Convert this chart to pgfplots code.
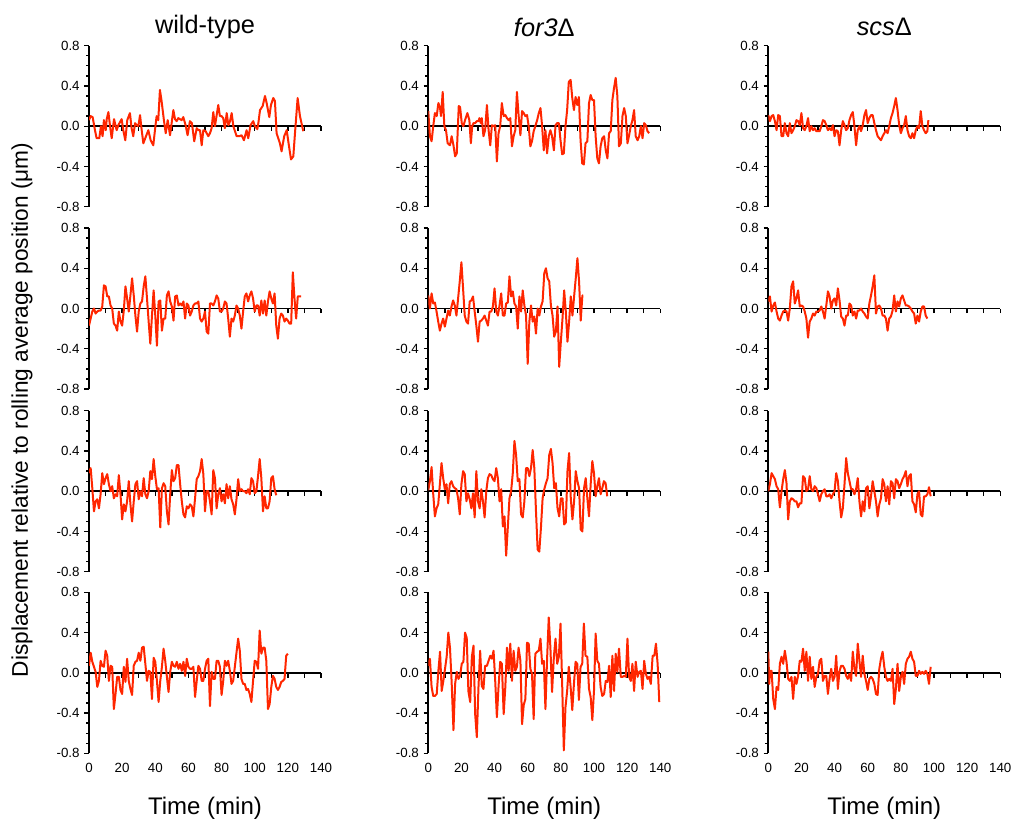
\documentclass[border=0pt]{standalone}
\usepackage{fontspec}
\setmainfont{Liberation Sans}
\usepackage{pgfplots}
\pgfplotsset{compat=1.18}

\definecolor{trace}{RGB}{255,38,0}

\pgfplotsset{
  panel/.style={
    scale only axis, width=174pt, height=120.75pt,
    xmin=0, xmax=140, ymin=-0.8, ymax=0.8,
    axis y line=left, axis x line=middle,
    axis line style={-, line width=1.2pt, black},
    hide obscured x ticks=false, hide obscured y ticks=false,
    xtick={0,10,...,140}, xticklabels={},
    ytick={-0.8,-0.4,0,0.4,0.8}, minor y tick num=3,
    tick align=outside,
    major tick length=3.5pt, minor tick length=2.2pt,
    every tick/.style={black, line width=1pt},
    /pgf/number format/assume math mode=true,
    y tick label style={/pgf/number format/fixed, /pgf/number format/fixed zerofill, /pgf/number format/precision=1},
    tick label style={font=\fontsize{10}{11}\selectfont},
    title style={anchor=center, yshift=8pt, font=\fontsize{19}{22}\selectfont},
  },
  bottom/.style={
    xticklabels={0,,20,,40,,60,,80,,100,,120,,140},
    x tick label style={yshift=-60.4pt},
    xlabel={Time (min)},
    xlabel style={at={(0.5,0)}, anchor=center, yshift=-41.5pt, font=\fontsize{18}{21}\selectfont},
  },
  trace line/.style={trace, line width=1.5pt, mark=none, line join=round},
}

\begin{document}
\begin{tikzpicture}
\path[use as bounding box] (0,0) rectangle (759.75pt,-613.5pt);

% row 1
\begin{axis}[panel, at={(66.75pt,-155pt)}, anchor=south west, title={wild-type}]
\addplot[trace line] coordinates {(0,0.06)(1,0.10)(2.2,0.09)(3.6,-0.04)(4.6,-0.12)(6.2,-0.12)(7.2,0.0)(8.2,-0.10)(9,0.06)(10.1,-0.04)(10.7,0.07)(11.7,0.14)(12.7,0.0)(13.7,-0.12)(15.1,0.07)(16.7,-0.04)(17.7,0.01)(19.7,0.07)(20.7,-0.04)(21.9,-0.14)(23.1,0.06)(24.7,0.13)(25.7,-0.02)(26.7,-0.10)(27.8,0.03)(28.8,0.01)(29.8,0.0)(30.8,0.11)(31.8,-0.04)(32.8,-0.17)(34.4,-0.10)(35.8,-0.04)(37.2,-0.14)(38.8,-0.19)(39.8,-0.04)(40.8,0.10)(41.8,0.06)(42.8,0.36)(43.8,0.25)(45.2,0.06)(46.3,-0.07)(47.5,0.06)(48.9,-0.09)(50.9,0.16)(51.9,0.07)(52.9,0.05)(53.9,0.08)(55.9,0.06)(56.9,0.09)(58.3,0.01)(59.5,-0.09)(60.9,0.05)(62.1,0.03)(63.5,-0.15)(65,-0.02)(66,-0.04)(67,-0.04)(68,-0.19)(69,-0.04)(70.4,-0.05)(72,-0.10)(73,-0.07)(74,-0.02)(75,0.14)(76,0.0)(78,0.21)(79,0.10)(80,0.10)(81,0.08)(82,-0.02)(83.1,0.13)(84.1,0.01)(85.1,0.05)(86.1,0.13)(87.1,0.0)(89.1,-0.10)(90.7,-0.10)(92.1,-0.09)(93.5,-0.14)(95.1,-0.04)(96.1,-0.12)(97.5,0.01)(99.1,0.05)(100.1,0.0)(101.6,-0.03)(102.2,0.03)(103.2,0.16)(104.8,0.20)(106.2,0.30)(107.2,0.23)(108.8,0.09)(109.8,0.21)(111.2,0.28)(112.2,0.25)(113.2,-0.07)(115.2,-0.17)(116.2,-0.25)(117.8,-0.10)(119.3,-0.04)(120.7,-0.20)(121.9,-0.33)(123.3,-0.30)(124.3,-0.07)(125.9,0.28)(127.3,0.10)(129.3,-0.05)};
\end{axis}

\begin{axis}[panel, at={(321.2pt,-155pt)}, anchor=south west, title={\textit{for3}Δ}]
\addplot[trace line] coordinates {(0,0.15)(1,-0.10)(2,-0.15)(3,0.0)(4,0.13)(5.1,0.10)(6.1,0.23)(7.1,0.18)(7.7,0.10)(8.7,0.34)(9.7,0.0)(10.7,-0.04)(11.7,-0.17)(13.1,-0.19)(14.1,-0.10)(15.2,-0.19)(16.2,-0.30)(17.2,-0.27)(18.4,0.20)(19.2,0.19)(20.2,0.03)(21.2,0.0)(22.2,0.06)(23.6,0.13)(24.8,0.06)(25.7,-0.17)(26.5,0.0)(27.3,0.03)(28.3,0.03)(29.3,0.05)(30.3,0.05)(30.9,0.08)(31.7,0.03)(32.3,0.08)(33.3,-0.10)(34.3,-0.04)(35.4,0.21)(36.4,-0.04)(37.4,-0.19)(38.4,0.01)(39.4,0.0)(40.4,0.01)(41.4,-0.35)(42.4,-0.07)(43.4,0.0)(44.4,0.23)(45.5,0.10)(46.5,0.11)(47.5,0.08)(48.5,0.06)(49.5,0.08)(50.5,-0.20)(51.5,-0.10)(52.5,-0.04)(53.5,0.34)(54.5,0.11)(55.6,-0.09)(56.6,0.15)(57.6,0.13)(58.6,0.10)(59.6,0.11)(60.6,0.0)(61.6,-0.20)(62.6,-0.15)(63.6,-0.05)(64.6,0.0)(65.7,0.06)(66.7,0.13)(67.7,0.18)(68.7,0.0)(69.7,-0.24)(70.7,-0.04)(71.7,-0.27)(72.7,-0.10)(73.7,-0.04)(74.7,-0.10)(75.8,-0.24)(76.8,0.01)(77.8,0.03)(78.8,0.03)(79.8,-0.14)(80.8,-0.28)(81.8,-0.27)(82.8,0.0)(83.8,0.16)(84.8,0.44)(85.9,0.46)(86.9,0.28)(87.9,0.16)(88.9,0.29)(89.9,0.21)(90.9,0.29)(91.9,-0.14)(92.9,-0.37)(93.9,-0.38)(94.9,-0.17)(96,-0.15)(97,0.23)(98,0.31)(99,0.26)(100,0.26)(101,-0.10)(102,-0.32)(103,-0.37)(104,-0.20)(105,-0.12)(106.1,-0.10)(107.1,-0.24)(108.1,-0.32)(109.1,-0.07)(110.1,-0.05)(111.1,0.26)(112.1,0.38)(113.1,0.48)(114.1,0.30)(115.1,-0.20)(116.2,-0.17)(117.2,0.10)(118.2,0.18)(119.2,0.10)(120.2,-0.17)(121.2,-0.09)(122.2,0.0)(123.2,0.06)(124.2,0.16)(125.2,-0.10)(126.3,-0.14)(127.3,-0.10)(128.3,0.0)(129.3,-0.12)(130.3,0.03)(131.3,0.01)(132.3,-0.05)(133.3,-0.07)};
\end{axis}

\begin{axis}[panel, at={(576.2pt,-155pt)}, anchor=south west, title={\textit{scs}Δ}]
\addplot[trace line] coordinates {(0,0.11)(1,0.05)(2,0.10)(3,0.11)(4,0.05)(5,-0.04)(6,0.11)(7,0.10)(8,-0.10)(9,-0.10)(10,0.03)(11,-0.07)(12,-0.10)(13,0.03)(14,-0.07)(15,-0.04)(16,0.0)(17,0.06)(18,0.05)(19,0.01)(20,0.13)(21,-0.02)(22,-0.04)(23,0.0)(24,0.08)(25,-0.05)(26,0.0)(27,-0.04)(28,-0.02)(29,-0.05)(30,-0.05)(31,-0.05)(32,0.0)(33,0.06)(34,0.05)(35,0.01)(36,-0.04)(37,-0.02)(38,-0.04)(39,0.01)(40,-0.10)(41,-0.04)(42,-0.05)(43,-0.19)(44,-0.04)(45,0.05)(46,0.01)(47,-0.04)(48,-0.02)(49,0.06)(50,0.11)(51,0.14)(52,0.0)(53,-0.19)(54,-0.04)(55,0.0)(56,-0.05)(57,0.01)(58,0.11)(59,0.16)(60,0.03)(61,0.08)(62,0.11)(63,0.11)(64,0.03)(65,-0.04)(66,-0.10)(67,-0.12)(68,-0.14)(69,-0.10)(70,-0.07)(71,-0.04)(72,-0.07)(73,0.0)(74,0.08)(75,0.13)(76,0.20)(77,0.28)(78,0.16)(79,0.01)(80,-0.07)(81,-0.02)(82,0.01)(83,0.10)(84,-0.04)(85,-0.10)(86,-0.12)(87,-0.07)(88,-0.12)(89,-0.04)(90,0.0)(91,-0.02)(92,0.15)(93,0.0)(94,-0.04)(95,-0.07)(96,-0.05)(96.6,0.06)};
\end{axis}

% row 2
\begin{axis}[panel, at={(66.75pt,-291.75pt)}, anchor=south west]
\addplot[trace line] coordinates {(0,-0.17)(1,-0.10)(2,-0.03)(3,0.0)(4,-0.05)(5,-0.03)(6,-0.02)(7,-0.02)(8,0.02)(9,0.23)(10,0.22)(11,0.12)(12,0.12)(13,0.03)(14,0.0)(15,-0.15)(16,-0.17)(17,-0.22)(18,-0.03)(19,-0.13)(20,-0.17)(21,-0.02)(22,0.22)(23,0.10)(24,-0.03)(25,0.13)(26,0.30)(27,0.13)(28,-0.07)(29,-0.23)(30,-0.03)(31,0.05)(32,0.07)(33,0.22)(34,0.32)(35,0.10)(36,-0.13)(37,-0.35)(38,-0.07)(39,0.18)(40,-0.07)(41,-0.37)(42,0.07)(43,0.08)(44,-0.22)(45,-0.10)(46,-0.10)(47,0.13)(48,0.17)(49,0.07)(50,0.02)(51,-0.12)(52,0.12)(53,0.13)(54,0.03)(55,0.05)(56,0.03)(57,0.07)(58,-0.10)(59,0.05)(60,0.03)(61,-0.07)(62,-0.03)(63,0.03)(64,0.05)(65,0.05)(66,0.07)(67,-0.10)(68,-0.13)(69,-0.10)(70,-0.03)(71,-0.23)(72,-0.25)(73,0.05)(74,0.05)(75,0.03)(76,0.07)(77,0.13)(78,0.10)(79,-0.03)(80,-0.03)(81,0.0)(82,0.07)(83,0.05)(84,-0.10)(85,-0.28)(86,-0.10)(87,-0.13)(88,-0.07)(89,0.03)(90,0.0)(91,-0.07)(92,-0.20)(93,-0.03)(94,0.12)(95,0.15)(96,0.07)(97,0.13)(98,0.17)(99,0.10)(100,-0.03)(101,0.03)(102,0.03)(103,-0.07)(104,0.08)(105,-0.05)(106,0.08)(107,-0.07)(108,0.07)(109,0.17)(110,0.10)(111,0.05)(112,0.15)(113,-0.17)(114,-0.30)(115,-0.10)(116,-0.05)(117,-0.07)(118,-0.13)(119,-0.10)(120,-0.12)(121,-0.15)(122,-0.15)(123,0.36)(124,0.10)(125,-0.10)(126,0.12)(127,0.12)(128,0.12)};
\end{axis}

\begin{axis}[panel, at={(321.2pt,-291.75pt)}, anchor=south west]
\addplot[trace line] coordinates {(0,0.13)(1,0.0)(2,0.15)(3,0.05)(4,0.06)(5,-0.03)(6,-0.13)(7,-0.22)(8,-0.15)(9,-0.10)(10,-0.18)(11,-0.10)(12,-0.02)(13,-0.07)(14,0.02)(15,0.08)(16,0.03)(17,-0.07)(18,0.10)(19,0.27)(20,0.46)(21,0.20)(22,-0.07)(23,-0.13)(24,-0.15)(25,0.07)(26,0.08)(27,0.12)(28,-0.03)(29,-0.17)(30,-0.33)(31,-0.13)(32,-0.12)(33,-0.10)(34,-0.07)(35,-0.12)(36,-0.17)(37,-0.03)(38,-0.03)(39,0.02)(40,0.20)(41,-0.03)(42,-0.07)(43,0.03)(44,0.15)(45,-0.07)(46,-0.07)(47,0.05)(48,0.06)(49,0.32)(50,0.12)(51,0.17)(52,0.05)(53,0.02)(54,-0.20)(55,0.12)(56,-0.03)(57,0.18)(58,0.03)(59,-0.07)(60,-0.55)(61,-0.13)(62,0.03)(63,-0.13)(64,-0.08)(65,-0.25)(66,0.0)(67,-0.07)(68,0.02)(69,0.07)(70,0.35)(71,0.40)(72,0.30)(73,0.27)(74,0.03)(75,-0.07)(76,-0.28)(77,-0.23)(78,0.02)(79,-0.58)(80,-0.33)(81,-0.10)(82,0.18)(83,-0.03)(84,-0.33)(85,-0.13)(86,0.12)(87,-0.07)(88,0.12)(89,0.30)(90,0.50)(91,0.27)(92,-0.12)(93,0.13)(93.4,0.13)};
\end{axis}

\begin{axis}[panel, at={(576.2pt,-291.75pt)}, anchor=south west]
\addplot[trace line] coordinates {(0,0.07)(1,0.12)(2,-0.03)(3,0.03)(4,0.06)(5,-0.03)(6,-0.10)(7,-0.12)(8,-0.07)(9,-0.03)(10,-0.02)(11,-0.03)(12,-0.12)(13,0.0)(14,0.22)(15,0.27)(16,0.05)(17,0.10)(18,0.18)(19,0.02)(20,0.03)(21,0.02)(22,-0.03)(23,-0.10)(24,-0.29)(25,-0.13)(26,-0.10)(27,-0.05)(28,-0.07)(29,-0.03)(30,-0.03)(31,-0.02)(32,0.02)(33,-0.03)(34,-0.10)(35,0.03)(36,0.17)(37,0.12)(38,0.0)(39,0.08)(40,0.10)(41,0.03)(42,0.20)(43,0.08)(44,-0.08)(45,-0.10)(46,-0.17)(47,-0.07)(48,-0.07)(49,0.05)(50,0.03)(51,-0.07)(52,-0.03)(53,-0.10)(54,-0.02)(55,-0.02)(56,0.0)(57,-0.03)(58,-0.05)(59,-0.08)(60,-0.10)(61,0.05)(62,0.13)(63,0.22)(64,0.33)(65,-0.05)(66,0.02)(67,0.03)(68,0.0)(69,-0.07)(70,-0.07)(71,-0.10)(72,-0.22)(73,-0.10)(74,-0.08)(75,-0.02)(76,0.13)(77,-0.03)(78,0.07)(79,0.02)(80,0.10)(81,0.13)(82,0.08)(83,0.03)(84,0.03)(85,0.02)(86,0.0)(87,-0.03)(88,-0.05)(89,-0.15)(90,-0.07)(91,-0.13)(92,-0.03)(93,0.02)(94,0.02)(95,-0.07)(96,-0.10)};
\end{axis}

% row 3
\begin{axis}[panel, at={(66.75pt,-428.8pt)}, anchor=south west]
\addplot[trace line] coordinates {(0,0.18)(1,0.23)(2,0.03)(3,-0.20)(4,-0.10)(5,-0.08)(6,-0.17)(7,-0.03)(8,0.18)(9,0.07)(10,0.13)(11,0.17)(12,0.07)(13,0.0)(14,0.05)(15,-0.07)(16,-0.03)(17,-0.05)(18,0.16)(19,-0.03)(20,-0.28)(21,-0.13)(22,-0.20)(23,-0.10)(24,0.10)(25,-0.13)(26,-0.30)(27,-0.10)(28,0.07)(29,0.10)(30,-0.08)(31,0.0)(32,-0.05)(33,0.13)(34,-0.03)(35,-0.07)(36,0.0)(37,0.20)(38,0.12)(39,0.32)(40,0.15)(41,0.02)(42,0.03)(43,-0.36)(44,0.03)(45,0.08)(46,0.05)(47,-0.20)(48,-0.33)(49,-0.03)(50,0.21)(51,0.10)(52,0.13)(53,0.26)(54,0.26)(55,0.07)(56,-0.10)(57,-0.23)(58,-0.26)(59,-0.15)(60,-0.17)(61,-0.13)(62,-0.15)(63,-0.25)(64,-0.07)(65,0.12)(66,0.15)(67,0.20)(68,0.32)(69,0.17)(70,-0.20)(71,0.0)(72,0.0)(73,-0.10)(74,-0.23)(75,0.21)(76,0.13)(77,-0.17)(78,-0.03)(79,0.03)(80,-0.10)(81,-0.03)(82,-0.12)(83,0.07)(84,-0.07)(85,0.05)(86,-0.08)(87,-0.13)(88,-0.23)(89,-0.08)(90,0.12)(91,0.0)(92,0.02)(93,0.0)(94,0.0)(95,-0.02)(96,0.02)(97,-0.03)(98,0.13)(99,0.10)(100,-0.02)(101,0.0)(102,0.15)(103,0.32)(104,0.13)(105,-0.20)(106,-0.05)(107,-0.17)(108,-0.17)(109,-0.10)(110,0.13)(111,0.15)(112,0.02)(113,-0.04)};
\end{axis}

\begin{axis}[panel, at={(321.2pt,-428.8pt)}, anchor=south west]
\addplot[trace line] coordinates {(0,0.01)(1,0.10)(2,0.24)(3,-0.03)(4,-0.25)(5,-0.17)(6,-0.13)(7,0.07)(8,0.28)(9,0.13)(10,0.02)(11,0.07)(12,-0.12)(13,0.07)(14,0.10)(15,0.05)(16,0.03)(17,0.02)(18,-0.07)(19,-0.23)(20,0.07)(21,0.20)(22,0.17)(23,-0.10)(24,-0.02)(25,-0.08)(26,-0.17)(27,-0.02)(28,-0.26)(29,0.20)(30,-0.10)(31,-0.17)(32,0.02)(33,-0.10)(34,-0.26)(35,0.0)(36,0.13)(37,0.17)(38,0.16)(39,0.12)(40,0.10)(41,0.23)(42,0.13)(43,-0.10)(44,0.02)(45,-0.35)(46,-0.25)(47,-0.64)(48,-0.36)(49,-0.07)(50,0.0)(51,0.18)(52,0.50)(53,0.36)(54,0.10)(55,0.12)(56,-0.23)(57,-0.26)(58,-0.10)(59,0.23)(60,0.23)(61,0.15)(62,0.23)(63,0.41)(64,0.23)(65,-0.20)(66,-0.58)(67,-0.60)(68,-0.36)(69,-0.07)(70,0.02)(71,0.08)(72,0.13)(73,0.36)(74,0.42)(75,0.28)(76,0.03)(77,0.08)(78,-0.17)(79,-0.25)(80,-0.07)(81,-0.07)(82,-0.33)(83,-0.31)(84,0.20)(85,0.38)(86,-0.07)(87,-0.28)(88,-0.10)(89,0.20)(90,0.10)(91,0.03)(92,-0.38)(93,-0.40)(94,0.03)(95,0.13)(96,-0.07)(97,-0.25)(98,0.07)(99,0.30)(100,0.18)(101,-0.05)(102,0.05)(103,0.13)(104,-0.03)(105,0.03)(106,0.10)(107,0.08)(108,-0.05)};
\end{axis}

\begin{axis}[panel, at={(576.2pt,-428.8pt)}, anchor=south west]
\addplot[trace line] coordinates {(0,0.0)(1,0.07)(2,0.18)(3,0.15)(4,0.12)(5,0.05)(6,0.02)(7,-0.16)(8,0.0)(9,0.12)(10,0.21)(11,0.08)(12,-0.28)(13,-0.10)(14,-0.07)(15,-0.08)(16,-0.10)(17,-0.10)(18,-0.16)(19,-0.12)(20,-0.12)(21,0.15)(22,0.13)(23,0.0)(24,0.02)(25,0.15)(26,0.02)(27,0.0)(28,0.05)(29,0.03)(30,-0.03)(31,-0.10)(32,-0.03)(33,0.0)(34,0.02)(35,-0.05)(36,-0.05)(37,-0.03)(38,-0.07)(39,-0.03)(40,0.0)(41,0.18)(42,0.10)(43,-0.10)(44,-0.26)(45,-0.17)(46,0.07)(47,0.33)(48,0.18)(49,0.10)(50,0.02)(51,0.02)(52,-0.03)(53,0.02)(54,0.13)(55,-0.10)(56,-0.25)(57,-0.10)(58,-0.20)(59,0.03)(60,0.05)(61,-0.17)(62,-0.05)(63,0.10)(64,0.0)(65,-0.10)(66,-0.25)(67,-0.13)(68,-0.07)(69,0.12)(70,0.07)(71,-0.10)(72,0.05)(73,-0.13)(74,0.10)(75,0.08)(76,-0.07)(77,0.12)(78,0.10)(79,0.03)(80,0.07)(81,0.12)(82,0.15)(83,0.20)(84,0.05)(85,0.15)(86,0.17)(87,-0.10)(88,-0.13)(89,-0.21)(90,-0.03)(91,0.0)(92,-0.23)(93,-0.25)(94,-0.05)(95,-0.05)(96,-0.03)(97,0.04)(98,-0.05)};
\end{axis}

% row 4
\begin{axis}[panel, bottom, at={(66.75pt,-565pt)}, anchor=south west]
\addplot[trace line] coordinates {(0,0.07)(1,0.20)(2,0.11)(3,0.06)(4,0.01)(5,-0.14)(6,-0.08)(7,0.12)(8,0.07)(9,0.06)(10,0.22)(11,0.17)(12,-0.08)(13,0.07)(14,0.06)(15,-0.36)(16,-0.21)(17,-0.04)(18,-0.04)(19,-0.17)(20,-0.21)(21,0.06)(22,-0.09)(23,0.14)(24,-0.08)(25,-0.16)(26,-0.22)(27,0.07)(28,0.11)(29,0.12)(30,0.20)(31,0.12)(32,0.25)(33,0.26)(34,0.09)(35,-0.08)(36,0.02)(37,0.01)(38,-0.26)(39,0.15)(40,0.11)(41,-0.08)(42,-0.29)(43,-0.08)(44,0.06)(45,0.24)(46,0.12)(47,-0.04)(48,-0.19)(49,0.01)(50,0.11)(51,0.07)(52,0.06)(53,0.11)(54,0.04)(55,0.09)(56,0.02)(57,0.11)(58,-0.03)(59,0.14)(60,0.06)(61,0.04)(62,0.04)(63,0.06)(64,-0.24)(65,-0.08)(66,0.07)(67,0.04)(68,-0.08)(69,-0.08)(70,0.04)(71,0.12)(72,0.14)(73,-0.33)(74,0.01)(75,-0.06)(76,-0.06)(77,0.12)(78,0.12)(79,0.06)(80,-0.22)(81,-0.08)(82,0.12)(83,0.07)(84,0.12)(85,0.02)(86,-0.11)(87,-0.08)(88,0.06)(89,0.20)(90,0.34)(91,0.22)(92,-0.06)(93,-0.11)(94,-0.11)(95,-0.17)(96,-0.16)(97,-0.21)(98,-0.29)(99,-0.08)(100,0.12)(101,0.11)(102,0.04)(103,0.42)(104,0.19)(105,0.25)(106,0.25)(107,0.12)(108,-0.36)(109,-0.31)(110,-0.14)(111,-0.03)(112,-0.06)(113,-0.14)(114,-0.17)(115,-0.14)(116,-0.09)(117,-0.08)(118,-0.06)(119,0.17)(120,0.19)};
\end{axis}

\begin{axis}[panel, bottom, at={(321.2pt,-565pt)}, anchor=south west]
\addplot[trace line] coordinates {(0,0.07)(1,0.14)(2,-0.14)(3,-0.23)(4,-0.23)(5.1,-0.21)(6.1,0.02)(7.1,0.21)(8.1,-0.18)(9.1,-0.08)(10.1,0.04)(11.1,0.16)(12.1,0.40)(13.1,0.25)(14.1,-0.09)(15.2,-0.57)(16.2,-0.11)(17.2,0.01)(18.2,-0.06)(19.2,-0.03)(20.2,0.09)(21.2,0.11)(22.2,0.40)(23.2,0.35)(24.2,-0.18)(25.3,-0.29)(26.3,0.16)(27.3,0.27)(28.3,-0.41)(29.3,-0.64)(30.3,-0.14)(31.3,0.22)(32.3,-0.13)(33.3,-0.16)(34.3,0.07)(35.4,0.07)(36.4,0.12)(37.4,0.17)(38.4,0.14)(39.4,0.22)(40.4,-0.08)(41.4,-0.44)(42.4,-0.14)(43.4,0.11)(44.4,0.09)(45.5,-0.41)(46.5,-0.14)(47.5,0.25)(48.5,0.02)(49.5,0.29)(50.5,-0.08)(51.5,0.22)(52.5,0.02)(53.5,0.06)(54.5,0.25)(55.6,0.12)(56.6,-0.51)(57.6,-0.32)(58.6,-0.26)(59.6,0.30)(60.6,0.29)(61.6,0.04)(62.6,-0.01)(63.6,-0.46)(64.6,0.19)(65.7,0.21)(66.7,0.22)(67.7,0.34)(68.7,0.09)(69.7,0.12)(70.7,-0.36)(71.7,0.14)(72.7,0.55)(73.7,0.25)(74.7,-0.19)(75.8,0.16)(76.8,0.34)(77.8,0.09)(78.8,0.16)(79.8,0.49)(80.8,-0.11)(81.8,-0.77)(82.8,-0.34)(83.8,-0.18)(84.8,0.06)(85.9,-0.14)(86.9,-0.37)(87.9,-0.11)(88.9,0.11)(89.9,0.09)(90.9,-0.27)(91.9,0.06)(92.9,0.09)(93.9,0.49)(94.9,0.17)(96,0.16)(97,-0.16)(98,-0.24)(99,-0.47)(100,-0.18)(101,0.39)(102,0.12)(103,0.09)(104,-0.14)(105,-0.23)(106.1,-0.21)(107.1,-0.08)(108.1,-0.09)(109.1,0.07)(110.1,-0.24)(111.1,0.17)(112.1,-0.18)(113.1,0.19)(114.1,0.01)(115.1,0.24)(116.2,-0.04)(117.2,-0.04)(118.2,-0.03)(119.2,-0.04)(120.2,0.34)(121.2,-0.04)(122.2,-0.08)(123.2,0.09)(124.2,-0.18)(125.2,0.11)(126.3,-0.04)(127.3,0.01)(128.3,0.02)(129.3,-0.16)(130.3,0.12)(131.3,-0.01)(132.3,-0.06)(133.3,-0.04)(134.3,-0.11)(135.4,0.17)(136.4,0.17)(137.4,0.29)(138.4,0.09)(139.4,-0.29)};
\end{axis}

\begin{axis}[panel, bottom, at={(576.2pt,-565pt)}, anchor=south west]
\addplot[trace line] coordinates {(0,0.21)(0.6,-0.11)(1,0.02)(2,0.02)(3,-0.26)(4,-0.36)(5,-0.14)(6,-0.17)(7,0.09)(8,0.16)(9,0.09)(10,0.22)(11,0.11)(12,-0.06)(13,-0.08)(14,-0.04)(15,-0.26)(16,-0.04)(17,-0.11)(18,-0.03)(19,0.12)(20,0.11)(21,0.24)(22,0.02)(23,0.21)(24,-0.08)(25,0.16)(26,-0.06)(27,0.06)(28,-0.14)(29,-0.04)(30,-0.01)(31,0.12)(32,0.14)(33,-0.08)(34,-0.03)(35,-0.03)(36,-0.21)(37,-0.06)(38,0.04)(39,-0.08)(40,-0.04)(41,0.17)(42,-0.16)(43,0.02)(44,0.07)(45,0.07)(46,0.04)(47,-0.03)(48,-0.06)(49,-0.01)(50,-0.08)(51,0.21)(52,0.04)(53,-0.03)(54,0.29)(55,0.12)(56,-0.04)(57,0.17)(58,-0.01)(59,-0.08)(60,-0.17)(61,-0.06)(62,-0.04)(63,-0.06)(64,-0.11)(65,-0.21)(66,-0.22)(67,0.04)(68,0.14)(69,0.21)(70,0.06)(71,-0.04)(72,-0.08)(73,-0.06)(74,-0.08)(75,0.04)(76,-0.31)(77,-0.16)(78,0.09)(79,-0.18)(80,-0.04)(81,0.01)(82,-0.11)(83,0.09)(84,0.14)(85,0.16)(86,0.21)(87,0.14)(88,0.11)(89,-0.03)(90,-0.03)(91,0.02)(92,-0.01)(93,0.01)(94,-0.01)(95,0.02)(96,-0.01)(97,-0.11)(98,0.06)};
\end{axis}

\node[rotate=90, font=\fontsize{17}{20}\selectfont] at (16.5pt,-307.5pt) {Displacement relative to rolling average position (μm)};
\end{tikzpicture}
\end{document}
